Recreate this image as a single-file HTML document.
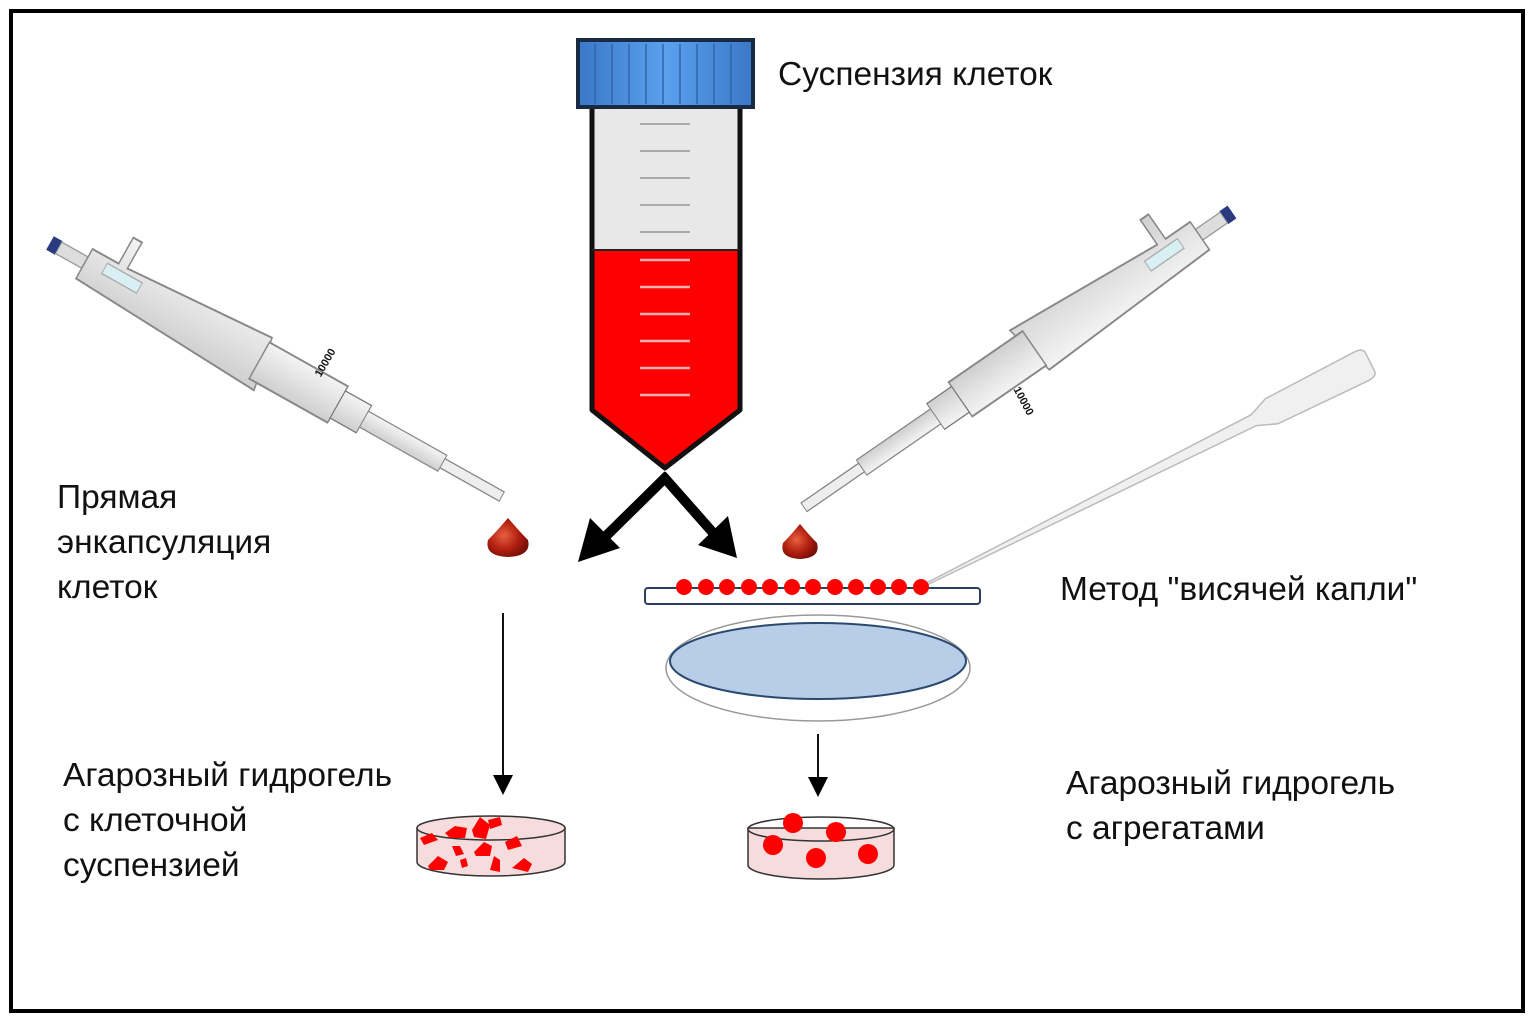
<!DOCTYPE html>
<html><head><meta charset="utf-8"><style>
html,body{margin:0;padding:0;background:#fff;}
svg{display:block;}
text{font-family:"Liberation Sans","DejaVu Sans",sans-serif;font-size:33.5px;fill:#111;}
</style></head><body>
<svg width="1535" height="1024" viewBox="0 0 1535 1024" xmlns="http://www.w3.org/2000/svg">
<defs>
<linearGradient id="cap" x1="0" x2="1" y1="0" y2="0">
<stop offset="0" stop-color="#3a78c8"/><stop offset="0.5" stop-color="#5aa0ee"/><stop offset="1" stop-color="#3a78c8"/>
</linearGradient>
<linearGradient id="pip" x1="0" x2="0" y1="0" y2="1">
<stop offset="0" stop-color="#f4f4f4"/><stop offset="0.5" stop-color="#e2e2e2"/><stop offset="1" stop-color="#cfcfcf"/>
</linearGradient>
<radialGradient id="drop" cx="0.4" cy="0.45" r="0.6">
<stop offset="0" stop-color="#e86040"/><stop offset="0.6" stop-color="#b22010"/><stop offset="1" stop-color="#7a1008"/>
</radialGradient>
</defs>
<rect x="11" y="11" width="1512" height="1000" fill="#fff" stroke="#000" stroke-width="4"/>

<!-- tube -->
<path d="M592 107 L592 410 L665 468 L740 410 L740 107 Z" fill="#e8e8e8"/>
<path d="M592 250 L592 410 L665 468 L740 410 L740 250 Z" fill="#ff0000"/>
<path d="M592 107 L592 410 L665 468 L740 410 L740 107" fill="none" stroke="#111" stroke-width="5" stroke-linejoin="round"/>
<line x1="592" y1="250" x2="740" y2="250" stroke="#222" stroke-width="2"/>
<g stroke="#aaa" stroke-width="2">
<line x1="640" y1="124" x2="690" y2="124"/><line x1="640" y1="151" x2="690" y2="151"/><line x1="640" y1="178" x2="690" y2="178"/><line x1="640" y1="205" x2="690" y2="205"/><line x1="640" y1="232" x2="690" y2="232"/>
</g>
<g stroke="#f6b0b0" stroke-width="2.5">
<line x1="640" y1="260" x2="690" y2="260"/><line x1="640" y1="287" x2="690" y2="287"/><line x1="640" y1="314" x2="690" y2="314"/><line x1="640" y1="341" x2="690" y2="341"/><line x1="640" y1="368" x2="690" y2="368"/><line x1="640" y1="395" x2="690" y2="395"/>
</g>
<rect x="578" y="40" width="175" height="67" fill="url(#cap)" stroke="#1a2a40" stroke-width="4"/>
<g stroke="#2f63a8" stroke-width="2" opacity="0.7">
<line x1="595" y1="44" x2="595" y2="104"/><line x1="612" y1="44" x2="612" y2="104"/><line x1="629" y1="44" x2="629" y2="104"/><line x1="646" y1="44" x2="646" y2="104"/><line x1="663" y1="44" x2="663" y2="104"/><line x1="680" y1="44" x2="680" y2="104"/><line x1="697" y1="44" x2="697" y2="104"/><line x1="714" y1="44" x2="714" y2="104"/><line x1="731" y1="44" x2="731" y2="104"/>
</g>

<!-- thick arrows -->
<g stroke="#000" stroke-width="10" fill="none">
<line x1="668" y1="475" x2="605" y2="537"/>
<line x1="662" y1="475" x2="715" y2="535"/>
</g>
<polygon points="578,562 590,518 620,548" fill="#000"/>
<polygon points="737,558 698,545 728,516" fill="#000"/>

<!-- left pipette -->
<g transform="translate(50,243) rotate(29.3) scale(1,1.3)">
<rect x="0" y="-6" width="10" height="12" fill="#2a3a80"/>
<rect x="10" y="-5" width="30" height="10" fill="#ddd" stroke="#999"/>
<path d="M40 -12 L70 -12 L70 -35 L80 -35 L80 -12 L240 -20 L250 22 L40 14 Z" fill="url(#pip)" stroke="#888" stroke-width="1.5"/>
<rect x="60" y="-8" width="40" height="9" fill="#d8f0f4" stroke="#aaa"/>
<rect x="240" y="-16" width="90" height="32" fill="url(#pip)" stroke="#888" stroke-width="1.5"/>
<rect x="330" y="-12" width="30" height="24" fill="url(#pip)" stroke="#777"/>
<rect x="360" y="-7" width="90" height="14" fill="url(#pip)" stroke="#888"/>
<rect x="450" y="-4" width="68" height="8" fill="#eee" stroke="#888"/>
</g>
<text x="300" y="378" transform="rotate(-60 310 360)" style="font-size:11px;font-weight:bold">10000</text>

<!-- right pipette -->
<g transform="translate(1232,212) rotate(145.4) scale(1,1.3)">
<rect x="0" y="-6" width="10" height="12" fill="#2a3a80"/>
<rect x="10" y="-5" width="30" height="10" fill="#ddd" stroke="#999"/>
<path d="M40 -14 L240 -20 L250 22 L80 12 L80 35 L70 35 L70 12 L40 12 Z" fill="url(#pip)" stroke="#888" stroke-width="1.5"/>
<rect x="60" y="-2" width="40" height="9" fill="#d8f0f4" stroke="#aaa"/>
<rect x="240" y="-16" width="90" height="32" fill="url(#pip)" stroke="#888" stroke-width="1.5"/>
<rect x="330" y="-12" width="30" height="24" fill="url(#pip)" stroke="#777"/>
<rect x="360" y="-7" width="90" height="14" fill="url(#pip)" stroke="#888"/>
<rect x="450" y="-4" width="70" height="8" fill="#eee" stroke="#888"/>
</g>
<text x="1002" y="392" transform="rotate(62 1010 400)" style="font-size:11px;font-weight:bold">10000</text>

<!-- transfer pipette -->
<g transform="translate(1370,362) rotate(153.4)">
<path d="M0 -10 Q0 -16 10 -16 L110 -14 L130 -6 L498 -1 L498 1 L130 6 L110 14 L10 16 Q0 16 0 10 Z" fill="#f0f0f0" stroke="#bbb" stroke-width="1.5"/>
</g>

<!-- drops -->
<path d="M508 518 Q496 532 488 540 Q484 556 508 557 Q532 556 528 540 Q520 532 508 518 Z" fill="url(#drop)"/>
<path d="M800 524 Q790 536 783 543 Q779 558 800 559 Q821 558 817 543 Q810 536 800 524 Z" fill="url(#drop)"/>

<!-- slide with drops -->
<rect x="645" y="588" width="335" height="16" rx="3" fill="#fff" stroke="#2a4060" stroke-width="2"/>
<g fill="#f00">
<circle cx="684" cy="587" r="8"/><circle cx="706" cy="587" r="8"/><circle cx="727" cy="587" r="8"/><circle cx="749" cy="587" r="8"/><circle cx="770" cy="587" r="8"/><circle cx="792" cy="587" r="8"/><circle cx="813" cy="587" r="8"/><circle cx="835" cy="587" r="8"/><circle cx="856" cy="587" r="8"/><circle cx="878" cy="587" r="8"/><circle cx="899" cy="587" r="8"/><circle cx="921" cy="587" r="8"/>
</g>

<!-- petri -->
<ellipse cx="818" cy="668" rx="152" ry="53" fill="#fff" stroke="#999" stroke-width="1.5"/>
<ellipse cx="818" cy="661" rx="148" ry="38" fill="#b8cee8" stroke="#2a4a70" stroke-width="2"/>

<!-- thin arrows -->
<line x1="503" y1="613" x2="503" y2="778" stroke="#111" stroke-width="2"/>
<polygon points="493,775 513,775 503,795" fill="#000"/>
<line x1="818" y1="734" x2="818" y2="780" stroke="#111" stroke-width="2"/>
<polygon points="808,777 828,777 818,797" fill="#000"/>

<!-- left dish -->
<path d="M417 828 L417 862 A74 14 0 0 0 565 862 L565 828 Z" fill="#f6dcdc" stroke="#333" stroke-width="1.5"/>
<ellipse cx="491" cy="828" rx="74" ry="12" fill="#f6dcdc" stroke="#333" stroke-width="1.5"/>
<g fill="#f00">
<path d="M445 833 l10 -7 l12 2 l-2 10 l-15 0z"/><path d="M472 830 l8 -13 l10 8 l-4 14 l-12 -2z"/><path d="M488 820 l12 -3 l2 8 l-12 4z"/>
<path d="M420 838 l12 -5 l6 7 l-14 5z"/><path d="M452 846 l8 0 l4 8 l-8 2z"/><path d="M474 852 l10 -10 l8 4 l-2 10 l-14 0z"/><path d="M505 842 l12 -6 l5 10 l-14 4z"/>
<path d="M428 866 l10 -10 l10 6 l-4 8 l-14 0z"/><path d="M460 860 l6 -2 l2 8 l-6 2z"/><path d="M490 870 l4 -14 l6 4 l0 12z"/><path d="M512 868 l12 -10 l8 6 l-4 8z"/>
</g>
<!-- right dish -->
<path d="M748 828 L748 865 A73 14 0 0 0 894 865 L894 828 Z" fill="#f6dcdc" stroke="#333" stroke-width="1.5"/>
<ellipse cx="821" cy="829" rx="73" ry="12" fill="none" stroke="#333" stroke-width="1.5"/>
<g fill="#f00">
<circle cx="793" cy="823" r="10"/><circle cx="836" cy="832" r="10"/><circle cx="773" cy="845" r="10"/><circle cx="816" cy="858" r="10"/><circle cx="868" cy="854" r="10"/>
</g>

<!-- labels -->
<text x="778" y="85">Суспензия клеток</text>
<text x="57" y="508">Прямая</text>
<text x="57" y="553">энкапсуляция</text>
<text x="57" y="598">клеток</text>
<text x="1060" y="600">Метод "висячей капли"</text>
<text x="63" y="786">Агарозный гидрогель</text>
<text x="63" y="831">с клеточной</text>
<text x="63" y="876">суспензией</text>
<text x="1066" y="794">Агарозный гидрогель</text>
<text x="1066" y="839">с агрегатами</text>
</svg>
</body></html>
